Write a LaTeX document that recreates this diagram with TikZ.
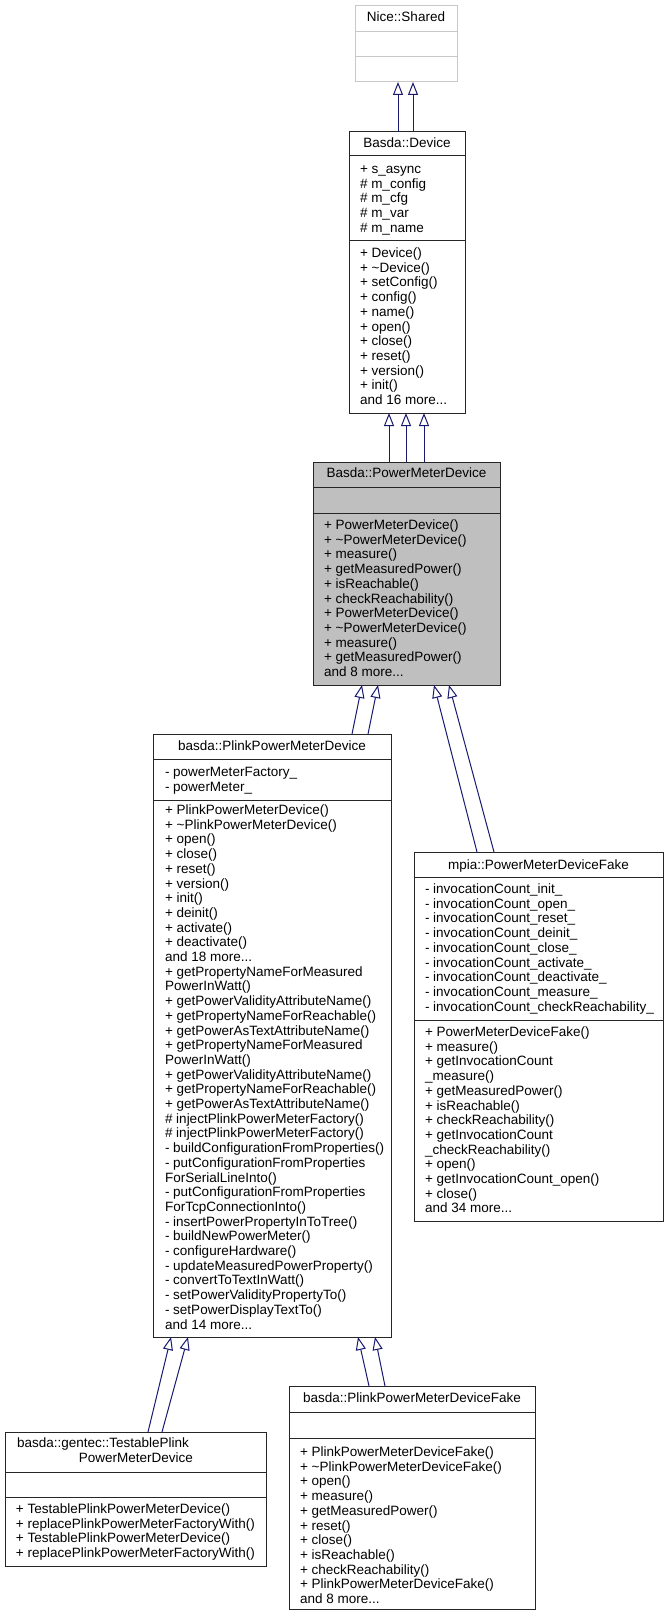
\documentclass[tikz,border=0pt]{standalone}
\usepackage{fontspec}
\setmainfont{Liberation Sans}
\usetikzlibrary{arrows.meta,calc}
\definecolor{edgeblue}{HTML}{191970}
\definecolor{boxgray}{HTML}{BFBFBF}
\definecolor{lightframe}{HTML}{C8C8C8}
\newcommand\threedots{...}
\newcommand\classlines[4]{\foreach \lineitem [count=\i from 0] in {#4} {\node[txt, anchor=base west] (#1-\i) at ({#2},{#3+14.7*\i+4.5}) {\lineitem};}}
\begin{document}
\begin{tikzpicture}[x=1pt,y=-1pt,
 box/.style={draw=black!85, line width=1pt, fill=white, inner sep=0pt, outer sep=0pt, anchor=north west},
 sepline/.style={draw=black!85, line width=1pt},
 txt/.style={font=\fontsize{13.5}{14.7}\selectfont, inner sep=0pt, outer sep=0pt},
 inh/.style={draw=edgeblue, line width=1pt, -{Triangle[open, length=13pt, width=10pt]}}]
\useasboundingbox (0,0) rectangle (669,1616);
\fill[white] (0,0) rectangle (669,1616);

% Nice::Shared
\node[box, draw=lightframe, minimum width=102, minimum height=76] (shared) at (355,6) {};
\draw[sepline, draw=lightframe] (355,32) -- (457,32);
\draw[sepline, draw=lightframe] (355,57) -- (457,57);
\node[txt, anchor=base] (shared-t) at (406,22) {Nice::Shared};

% Basda::Device
\node[box, minimum width=116, minimum height=281] (device) at (349,132) {};
\draw[sepline] (349,156) -- (465,156);
\draw[sepline] (349,240) -- (465,240);
\node[txt, anchor=base] (device-t) at (407,147.5) {Basda::Device};
\classlines{deva}{360}{169}{+ s\_async,\# m\_config,\# m\_cfg,\# m\_var,\# m\_name}
\classlines{devm}{360}{253}{+ Device(),+ \textasciitilde Device(),+ setConfig(),+ config(),+ name(),+ open(),+ close(),+ reset(),+ version(),+ init(),and 16 more\threedots}

% Basda::PowerMeterDevice
\node[box, fill=boxgray, minimum width=187, minimum height=223] (pmd) at (313,462) {};
\draw[sepline] (313,487) -- (500,487);
\draw[sepline] (313,513) -- (500,513);
\node[txt, anchor=base] (pmd-t) at (406.5,477.5) {Basda::PowerMeterDevice};
\classlines{pmdm}{324}{525}{+ PowerMeterDevice(),+ \textasciitilde PowerMeterDevice(),+ measure(),+ getMeasuredPower(),+ isReachable(),+ checkReachability(),+ PowerMeterDevice(),+ \textasciitilde PowerMeterDevice(),+ measure(),+ getMeasuredPower(),and 8 more\threedots}

% basda::PlinkPowerMeterDevice
\node[box, minimum width=238, minimum height=603] (plink) at (153,734) {};
\draw[sepline] (153,759) -- (391,759);
\draw[sepline] (153,800) -- (391,800);
\node[txt, anchor=base] (plink-t) at (272,750.5) {basda::PlinkPowerMeterDevice};
\classlines{plinka}{165}{772}{- powerMeterFactory\_,- powerMeter\_}
\classlines{plinkm}{165}{810}{+ PlinkPowerMeterDevice(),+ \textasciitilde PlinkPowerMeterDevice(),+ open(),+ close(),+ reset(),+ version(),+ init(),+ deinit(),+ activate(),+ deactivate(),and 18 more\threedots,+ getPropertyNameForMeasured,PowerInWatt(),+ getPowerValidityAttributeName(),+ getPropertyNameForReachable(),+ getPowerAsTextAttributeName(),+ getPropertyNameForMeasured,PowerInWatt(),+ getPowerValidityAttributeName(),+ getPropertyNameForReachable(),+ getPowerAsTextAttributeName(),\# injectPlinkPowerMeterFactory(),\# injectPlinkPowerMeterFactory(),- buildConfigurationFromProperties(),- putConfigurationFromProperties,ForSerialLineInto(),- putConfigurationFromProperties,ForTcpConnectionInto(),- insertPowerPropertyInToTree(),- buildNewPowerMeter(),- configureHardware(),- updateMeasuredPowerProperty(),- convertToTextInWatt(),- setPowerValidityPropertyTo(),- setPowerDisplayTextTo(),and 14 more\threedots}

% mpia::PowerMeterDeviceFake
\node[box, minimum width=249, minimum height=369] (mpia) at (414,852) {};
\draw[sepline] (414,877) -- (663,877);
\draw[sepline] (414,1020) -- (663,1020);
\node[txt, anchor=base] (mpia-t) at (538.5,869.5) {mpia::PowerMeterDeviceFake};
\classlines{mpiaa}{425}{889}{- invocationCount\_init\_,- invocationCount\_open\_,- invocationCount\_reset\_,- invocationCount\_deinit\_,- invocationCount\_close\_,- invocationCount\_activate\_,- invocationCount\_deactivate\_,- invocationCount\_measure\_,- invocationCount\_checkReachability\_}
\classlines{mpiam}{425}{1032}{+ PowerMeterDeviceFake(),+ measure(),+ getInvocationCount,\_measure(),+ getMeasuredPower(),+ isReachable(),+ checkReachability(),+ getInvocationCount,\_checkReachability(),+ open(),+ getInvocationCount\_open(),+ close(),and 34 more\threedots}

% basda::gentec::TestablePlinkPowerMeterDevice
\node[box, minimum width=261, minimum height=134] (test) at (5,1432) {};
\draw[sepline] (5,1472) -- (266,1472);
\draw[sepline] (5,1497) -- (266,1497);
\node[txt, anchor=base west] (test-t1) at (17,1447.5) {basda::gentec::TestablePlink};
\node[txt, anchor=base east] (test-t2) at (193,1462.2) {PowerMeterDevice};
\classlines{testm}{16}{1509}{+ TestablePlinkPowerMeterDevice(),+ replacePlinkPowerMeterFactoryWith(),+ TestablePlinkPowerMeterDevice(),+ replacePlinkPowerMeterFactoryWith()}

% basda::PlinkPowerMeterDeviceFake
\node[box, minimum width=246, minimum height=223] (pfake) at (289,1386) {};
\draw[sepline] (289,1412) -- (535,1412);
\draw[sepline] (289,1438) -- (535,1438);
\node[txt, anchor=base] (pfake-t) at (412,1402.5) {basda::PlinkPowerMeterDeviceFake};
\classlines{pfakem}{300}{1452}{+ PlinkPowerMeterDeviceFake(),+ \textasciitilde PlinkPowerMeterDeviceFake(),+ open(),+ measure(),+ getMeasuredPower(),+ reset(),+ close(),+ isReachable(),+ checkReachability(),+ PlinkPowerMeterDeviceFake(),and 8 more\threedots}

% inheritance connectors
\draw[inh] ($(device.north west)+(49,0)$) -- ($(shared.south west)+(43,0)$);
\draw[inh] ($(device.north west)+(64,0)$) -- ($(shared.south west)+(58,0)$);
\draw[inh] ($(pmd.north west)+(76,0)$) -- ($(device.south west)+(40,0)$);
\draw[inh] ($(pmd.north west)+(93,0)$) -- ($(device.south west)+(57,0)$);
\draw[inh] ($(pmd.north west)+(111,0)$) -- ($(device.south west)+(75,0)$);
\draw[inh] ($(plink.north west)+(199,0)$) -- ($(pmd.south west)+(49,0)$);
\draw[inh] ($(plink.north west)+(215,0)$) -- ($(pmd.south west)+(65,0)$);
\draw[inh] ($(mpia.north west)+(63,0)$) -- ($(pmd.south west)+(121,0)$);
\draw[inh] ($(mpia.north west)+(80,0)$) -- ($(pmd.south west)+(136,0)$);
\draw[inh] ($(test.north west)+(143,0)$) -- ($(plink.south west)+(18,0)$);
\draw[inh] ($(test.north west)+(157,0)$) -- ($(plink.south west)+(35,0)$);
\draw[inh] ($(pfake.north west)+(80,0)$) -- ($(plink.south west)+(205,0)$);
\draw[inh] ($(pfake.north west)+(96,0)$) -- ($(plink.south west)+(222,0)$);
\end{tikzpicture}
\end{document}
